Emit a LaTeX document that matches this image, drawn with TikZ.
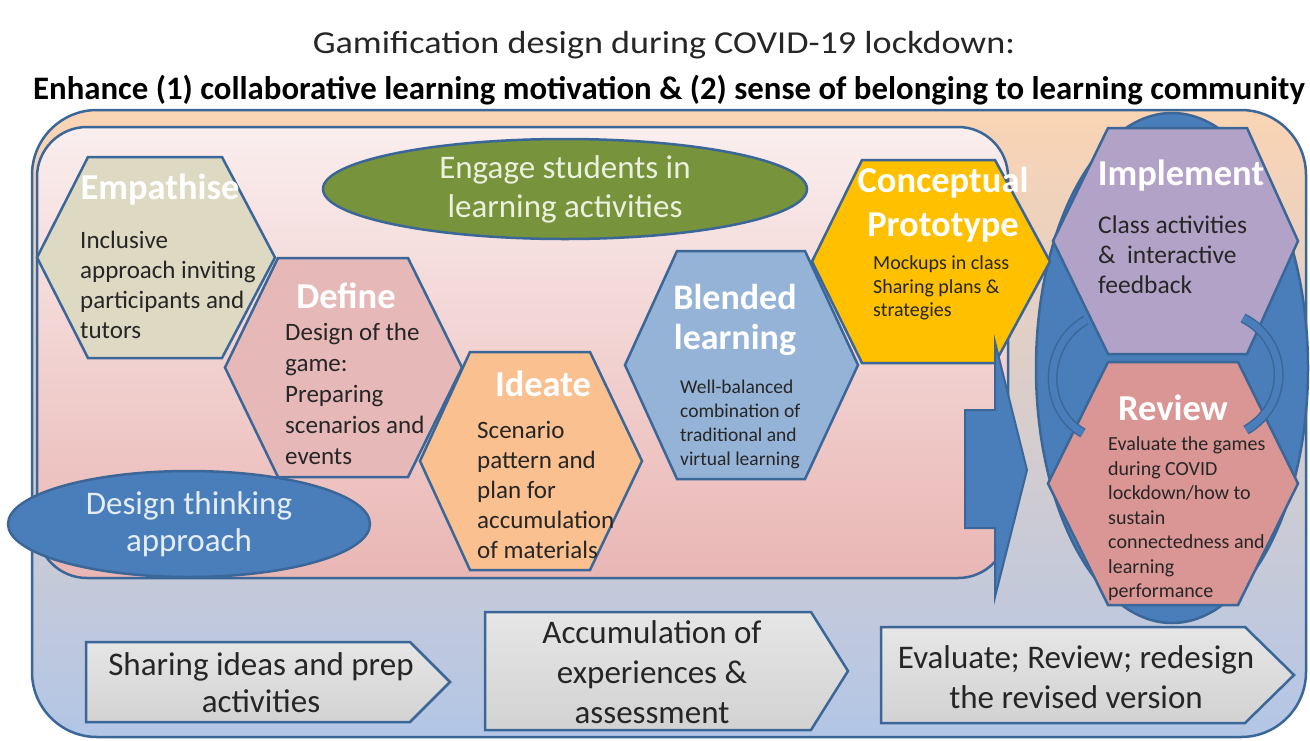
\documentclass[tikz,border=0pt]{standalone}
\usepackage{fontspec}
\setmainfont{Carlito}
\usetikzlibrary{shapes.geometric,arrows.meta}
\definecolor{lineblue}{HTML}{3B6698}
\definecolor{peach}{HTML}{FAD4B4}
\definecolor{lblue}{HTML}{B3C6E6}
\definecolor{pinktop}{HTML}{FAEEEE}
\definecolor{pinkbot}{HTML}{E9B6B4}
\definecolor{empfill}{HTML}{DDD9C3}
\definecolor{deffill}{HTML}{E6B9B8}
\definecolor{ideafill}{HTML}{FAC090}
\definecolor{blendfill}{HTML}{95B3D7}
\definecolor{concfill}{HTML}{FFC000}
\definecolor{implfill}{HTML}{B3A2C7}
\definecolor{revfill}{HTML}{D99694}
\definecolor{ringfill}{HTML}{4A7EBB}
\definecolor{greenfill}{HTML}{77933C}
\definecolor{greentext}{HTML}{EBF1DE}
\definecolor{dttext}{HTML}{E4ECF6}
\definecolor{textdark}{HTML}{262626}
\definecolor{greytop}{HTML}{E6E6E6}
\definecolor{greybot}{HTML}{D2D2D2}
\newcommand{\hexa}[7]{\path[#1] (#2,{(#6+#7)/2}) -- (#3,#6) -- (#4,#6) -- (#5,{(#6+#7)/2}) -- (#4,#7) -- (#3,#7) -- cycle;}
\begin{document}
\begin{tikzpicture}[x=1pt,y=-1pt,
  outline/.style={draw=lineblue, line width=2.5},
  head/.style={font=\fontsize{36.5}{44}\selectfont\bfseries, text=white, align=center, inner sep=0},
  body/.style={text=textdark, align=left, anchor=west, inner sep=0},
  big/.style={font=\fontsize{33}{40}\selectfont, text=textdark, align=center, inner sep=0},
  chevron/.style={outline, top color=greytop, bottom color=greybot},
  band/.style={draw=lineblue, line width=1.5, double=ringfill, double distance=7}
]
\useasboundingbox (0,0) rectangle (1310,740);
\fill[white] (0,0) rectangle (1310,740);

% titles
\node[font=\fontsize{32}{36}\selectfont, text=textdark] (title) at (664,45) {\scalebox{1.13}[1]{Gamification design during COVID-19 lockdown:}};
\node[font=\fontsize{32.8}{36}\selectfont\bfseries, text=black] (subtitle) at (669,90) {Enhance (1) collaborative learning motivation \& (2) sense of belonging to learning community};

% outer and inner frames
\path[outline, top color=peach, bottom color=lblue, rounded corners=65] (32,110) rectangle (1306,737);
\path[outline, top color=pinktop, bottom color=pinkbot, rounded corners=50] (37,127) rectangle (1008,578);

% ring behind implement/review
\path[outline, fill=ringfill] (1172,368) ellipse [x radius=136, y radius=255];

% green ellipse
\node[ellipse, outline, fill=greenfill, minimum width=484, minimum height=100, inner sep=0,
      font=\fontsize{33}{39}\selectfont, text=greentext, align=center] (engage) at (565,189)
      {Engage students in\\learning activities};

% hexagons
\hexa{outline, fill=empfill}{37}{88}{222}{275}{157}{358}
\hexa{outline, fill=deffill}{225}{278}{408}{462}{258}{477}
\hexa{outline, fill=ideafill}{420}{470}{590}{642}{352}{570}
\hexa{outline, fill=blendfill}{625}{677}{805}{858}{251}{479}
\hexa{outline, fill=concfill}{812}{862}{995}{1050}{160}{363}
\hexa{outline, fill=implfill}{1053}{1108}{1247}{1298}{128}{354}
\hexa{outline, fill=revfill}{1048}{1108}{1238}{1298}{362}{605}

% circular arrows inside ring
\draw[band] (1086,320) .. controls (1042,345) and (1042,410) .. (1083,433);
\draw[band] (1246,430) .. controls (1290,405) and (1290,342) .. (1243,318);

% big arrow
\path[outline, line width=2, fill=ringfill] (965,410) -- (995,410) -- (995,342) -- (1027,470) -- (995,597) -- (995,528) -- (965,528) -- cycle;

% design thinking ellipse
\node[ellipse, outline, fill=ringfill, minimum width=362, minimum height=106, inner sep=0,
      font=\fontsize{33}{37}\selectfont, text=dttext, align=center] (dt) at (189,524)
      {Design thinking\\approach};

% bottom chevrons
\path[chevron] (86,642) -- (410,642) -- (450,682) -- (410,722) -- (86,722) -- cycle;
\path[chevron] (485,612) -- (811,612) -- (848,671) -- (811,730) -- (485,730) -- cycle;
\path[chevron] (881,627) -- (1245,627) -- (1294,675) -- (1245,723) -- (881,723) -- cycle;
\node[big, font=\fontsize{33}{37}\selectfont] (share) at (261,683) {Sharing ideas and prep\\activities};
\node[big] (accum) at (652,672) {Accumulation of\\experiences \&\\assessment};
\node[big] (eval) at (1076,677) {Evaluate; Review; redesign\\the revised version};

% headers
\node[head] (hEmp) at (160,190) {Empathise};
\node[head] (hDef) at (346,296) {Define};
\node[head] (hIde) at (543,384) {Ideate};
\node[head, font=\fontsize{36}{40}\selectfont\bfseries] (hBle) at (735,320) {Blended\\learning};
\node[head] (hCon) at (943,205) {Conceptual\\Prototype};
\node[head] (hImp) at (1181,176) {Implement};
\node[head] (hRev) at (1173,408) {Review};

% bodies
\node[body, font=\fontsize{25}{30}\selectfont] (bEmp) at (80,285) {Inclusive\\approach inviting\\participants and\\tutors};
\node[body, font=\fontsize{25}{31}\selectfont] (bDef) at (285,394) {Design of the\\game:\\Preparing\\scenarios and\\events};
\node[body, font=\fontsize{25}{30}\selectfont] (bIde) at (477,490) {Scenario\\pattern and\\plan for\\accumulation\\of materials};
\node[body, font=\fontsize{19.5}{24}\selectfont] (bBle) at (680,424) {Well-balanced\\combination of\\traditional and\\virtual learning};
\node[body, font=\fontsize{20}{23.5}\selectfont] (bCon) at (873,288) {Mockups in class\\Sharing plans \&\\strategies};
\node[body, font=\fontsize{25.5}{30}\selectfont] (bImp) at (1098,255) {Class activities\\\&~~interactive\\feedback};
\node[body, font=\fontsize{20}{24.5}\selectfont] (bRev) at (1108,519) {Evaluate the games\\during COVID\\lockdown/how to\\sustain\\connectedness and\\learning\\performance};
\end{tikzpicture}
\end{document}
